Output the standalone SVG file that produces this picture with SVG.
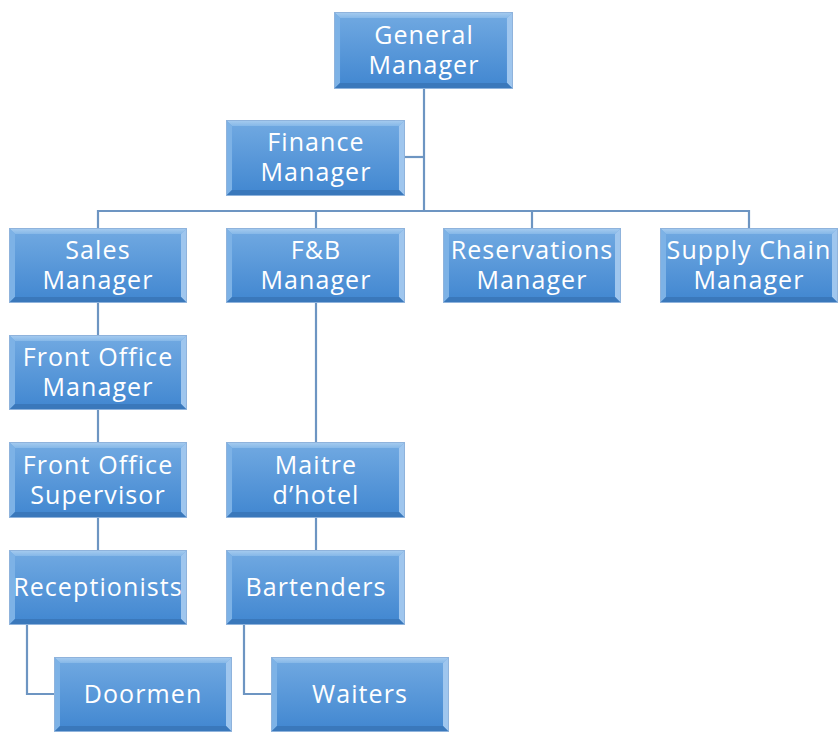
<svg xmlns="http://www.w3.org/2000/svg" width="839" height="732" viewBox="0 0 839 732">
<defs>
<linearGradient id="g" x1="0" y1="0" x2="0" y2="1">
<stop offset="0" stop-color="#72aae2"/>
<stop offset="1" stop-color="#4086d0"/>
</linearGradient>
<linearGradient id="gt" x1="0" y1="0" x2="0" y2="1">
<stop offset="0" stop-color="#a9cdf0"/>
<stop offset="1" stop-color="#86b8e8"/>
</linearGradient>
<symbol id="box" viewBox="0 0 178 76" preserveAspectRatio="none">
<rect x="0" y="0" width="178" height="76" fill="url(#g)"/>
<polygon points="0,0 178,0 172,6 6,6" fill="url(#gt)"/>
<polygon points="0,0 6,6 6,70 0,76" fill="#7db2e6"/>
<polygon points="178,0 178,76 172,70 172,6" fill="#9fc6ee"/>
<polygon points="0,76 6,70 172,70 178,76" fill="#3a78bb"/>
</symbol>
</defs>
<style>
.c{fill:none;stroke:#6d95c2;stroke-width:2.2}
text{font-family:"Open Sans","Liberation Sans",sans-serif;font-size:25px;letter-spacing:1.1px;fill:#ffffff;text-anchor:middle}
.b{stroke:#8fb3dc;stroke-width:1;fill:none}
</style>
<rect width="839" height="732" fill="#ffffff"/>
<g id="connectors">
<path class="c" d="M424,89 V211"/>
<path class="c" d="M405,157 H424"/>
<path class="c" d="M98,228 V211 H749 V228"/>
<path class="c" d="M316,211 V228"/>
<path class="c" d="M532,211 V228"/>
<path class="c" d="M98,303 V335"/>
<path class="c" d="M98,410 V442"/>
<path class="c" d="M98,518 V550"/>
<path class="c" d="M316,303 V442"/>
<path class="c" d="M316,518 V550"/>
<path class="c" d="M27,625 V694 H54"/>
<path class="c" d="M244,625 V694 H271"/>
</g>
<g id="gm"><use href="#box" x="334" y="12" width="179" height="77"/><rect class="b" x="334.5" y="12.5" width="178" height="76"/><text x="424" y="44">General</text><text x="424" y="74">Manager</text></g>
<g id="finance"><use href="#box" x="226" y="120" width="179" height="76"/><rect class="b" x="226.5" y="120.5" width="178" height="75"/><text x="316" y="151">Finance</text><text x="316" y="181">Manager</text></g>
<g id="sales"><use href="#box" x="9" y="228" width="178" height="75"/><rect class="b" x="9.5" y="228.5" width="177" height="74"/><text x="98" y="259">Sales</text><text x="98" y="289">Manager</text></g>
<g id="fnb"><use href="#box" x="226" y="228" width="179" height="75"/><rect class="b" x="226.5" y="228.5" width="178" height="74"/><text x="316" y="259">F&amp;B</text><text x="316" y="289">Manager</text></g>
<g id="reservations"><use href="#box" x="443" y="228" width="178" height="75"/><rect class="b" x="443.5" y="228.5" width="177" height="74"/><text x="532" y="259">Reservations</text><text x="532" y="289">Manager</text></g>
<g id="supply"><use href="#box" x="660" y="228" width="178" height="75"/><rect class="b" x="660.5" y="228.5" width="177" height="74"/><text x="749" y="259">Supply Chain</text><text x="749" y="289">Manager</text></g>
<g id="fom"><use href="#box" x="9" y="335" width="178" height="75"/><rect class="b" x="9.5" y="335.5" width="177" height="74"/><text x="98" y="366">Front Office</text><text x="98" y="396">Manager</text></g>
<g id="fos"><use href="#box" x="9" y="442" width="178" height="76"/><rect class="b" x="9.5" y="442.5" width="177" height="75"/><text x="98" y="474">Front Office</text><text x="98" y="504">Supervisor</text></g>
<g id="receptionists"><use href="#box" x="9" y="550" width="178" height="75"/><rect class="b" x="9.5" y="550.5" width="177" height="74"/><text x="98" y="596">Receptionists</text></g>
<g id="doormen"><use href="#box" x="54" y="657" width="178" height="75"/><rect class="b" x="54.5" y="657.5" width="177" height="74"/><text x="143" y="703">Doormen</text></g>
<g id="maitre"><use href="#box" x="226" y="442" width="179" height="76"/><rect class="b" x="226.5" y="442.5" width="178" height="75"/><text x="316" y="474">Maitre</text><text x="316" y="504">d’hotel</text></g>
<g id="bartenders"><use href="#box" x="226" y="550" width="179" height="75"/><rect class="b" x="226.5" y="550.5" width="178" height="74"/><text x="316" y="596">Bartenders</text></g>
<g id="waiters"><use href="#box" x="271" y="657" width="178" height="75"/><rect class="b" x="271.5" y="657.5" width="177" height="74"/><text x="360" y="703">Waiters</text></g>
</svg>
